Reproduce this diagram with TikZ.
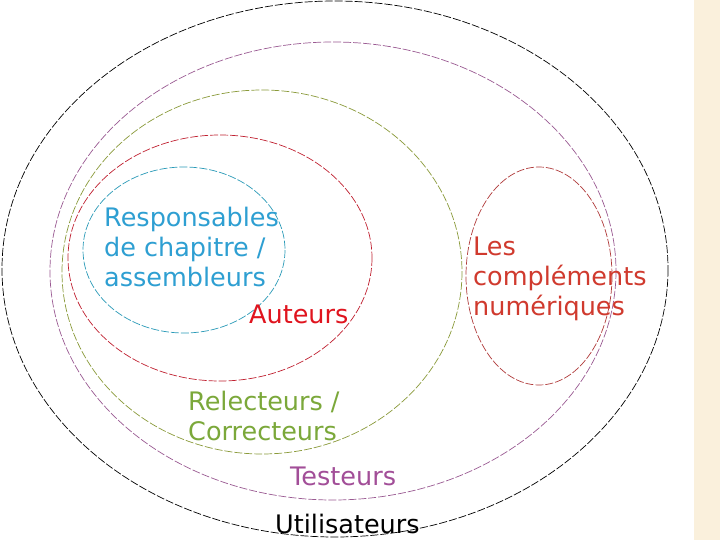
\documentclass[tikz,border=0pt]{standalone}
\usepackage{fontspec}
\setmainfont{DejaVu Sans}
\definecolor{cBlack}{HTML}{000000}
\definecolor{cPurple}{HTML}{9A5A92}
\definecolor{cGreen}{HTML}{8A9A3A}
\definecolor{cRed}{HTML}{C02030}
\definecolor{cCyan}{HTML}{2A9AB8}
\definecolor{cBrown}{HTML}{B03A3A}
\definecolor{tCyan}{HTML}{2E9FD2}
\definecolor{tRed}{HTML}{E0141E}
\definecolor{tGreen}{HTML}{7BA83A}
\definecolor{tPurple}{HTML}{A24E98}
\definecolor{tBrown}{HTML}{D03A2E}
\definecolor{strip}{HTML}{FAF0DC}
\tikzset{
  ring/.style={line width=0.7pt, dash pattern=on 8pt off 2pt},
  lbl/.style={anchor=base west, inner sep=0pt, align=left,
    font=\fontsize{25.5pt}{30pt}\selectfont}
}
\begin{document}
\begin{tikzpicture}[x=1pt,y=-1pt]
\useasboundingbox (0,0) rectangle (720,540);
\fill[white] (0,0) rectangle (720,540);
\fill[strip] (694,0) rectangle (720,540);
% ellipses
\draw[ring, cBlack] (335,269) ellipse [x radius=333, y radius=268];
\draw[ring, cPurple] (333,271) ellipse [x radius=283, y radius=229];
\draw[ring, cGreen] (262,272) ellipse [x radius=200, y radius=182];
\draw[ring, cRed] (220,258) ellipse [x radius=152, y radius=123];
\draw[ring, cCyan] (184,250) ellipse [x radius=101, y radius=83];
\draw[ring, cBrown] (539,276) ellipse [x radius=73, y radius=109];
% labels (base = baseline of last line)
\node[lbl, text=tCyan] (resp) at (104,286) {Responsables\\de chapitre /\\assembleurs};
\node[lbl, text=tRed] (aut) at (249,323) {Auteurs};
\node[lbl, text=tBrown] (comp) at (473,315) {Les\\compléments\\numériques};
\node[lbl, text=tGreen] (rel) at (188,440) {Relecteurs /\\Correcteurs};
\node[lbl, text=tPurple] (test) at (290,485) {Testeurs};
\node[lbl, text=black] (util) at (275,533) {Utilisateurs};
\end{tikzpicture}
\end{document}
